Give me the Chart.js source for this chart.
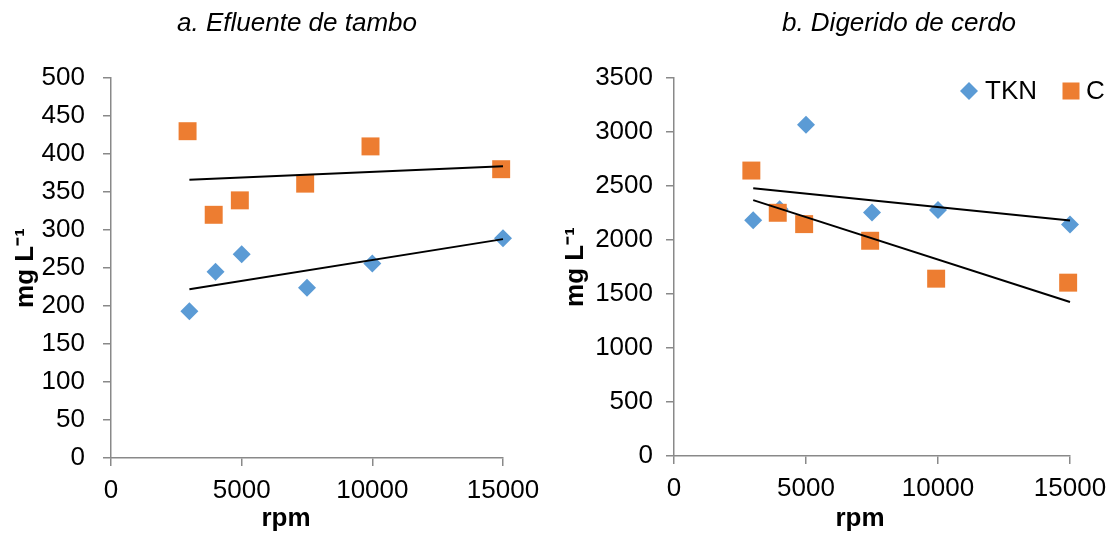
<!DOCTYPE html>
<html><head><meta charset="utf-8">
<script src="https://cdn.jsdelivr.net/npm/chart.js@4.4.1/dist/chart.umd.min.js"></script>
<style>
html,body{margin:0;padding:0;background:#fff;}
#wrap{position:relative;width:1120px;height:538px;overflow:hidden;background:#fff;}
canvas{position:absolute;top:0;}
#c1{left:0;} #c2{left:560px;}
</style></head><body>
<div id="wrap"><canvas id="c1" width="560" height="538"></canvas><canvas id="c2" width="560" height="538"></canvas></div>
<script>
// ---- data ----
const rpmTKN = [3000, 4000, 5000, 7500, 10000, 15000];
const rpmC = [2930, 3930, 4930, 7430, 9930, 14930];
const tamboTKN = [193, 245, 268, 224, 256, 289];
const tamboC = [430, 320, 339, 361, 410, 380];
const cerdoTKN = [2183, 2285, 3068, 2255, 2277, 2144];
const cerdoC = [2643, 2252, 2147, 1993, 1642, 1605];
const trendRpm = [3000, 15000];
const tamboTrendTKN = [222, 288];
const tamboTrendC = [366, 384];
const cerdoTrendTKN = [2480, 2181];
const cerdoTrendC = [2369, 1426];
const xTickStep = 5000, xMax = 15000;
const tamboMax = 500, tamboStep = 50;
const cerdoMax = 3500, cerdoStep = 500;
const titles = ['a. Efluente de tambo', 'b. Digerido de cerdo'];
const seriesNames = ['TKN', 'C'];
const xTitle = 'rpm';
const yTitle = 'mg L\u207B\u00B9';

// ---- styles ----
const FONT = "'Liberation Sans', Arial, sans-serif";
const BLUE = '#5B9BD5', ORANGE = '#ED7D31', AXIS = '#898989';

const pts = (xs, ys) => xs.map((x, i) => ({x, y: ys[i]}));
const plain = v => String(v);

function textPlugin(title, titleX, rpmX, legend) {
  return {
    id: 'texts',
    afterDraw(chart) {
      const ctx = chart.ctx;
      ctx.save();
      ctx.fillStyle = '#000';
      ctx.textAlign = 'center';
      ctx.textBaseline = 'alphabetic';
      ctx.font = 'italic 26px ' + FONT;
      ctx.fillText(title, titleX, 31);
      ctx.font = 'bold 26px ' + FONT;
      ctx.fillText(xTitle, rpmX, 526);
      if (legend) {
        const ly = 91;
        ctx.fillStyle = BLUE;
        ctx.beginPath();
        ctx.moveTo(409 - 9, ly); ctx.lineTo(409, ly - 9); ctx.lineTo(409 + 9, ly); ctx.lineTo(409, ly + 9);
        ctx.closePath(); ctx.fill();
        ctx.fillStyle = ORANGE;
        ctx.fillRect(511 - 8.5, ly - 8.5, 17, 17);
        ctx.fillStyle = '#000';
        ctx.font = '26px ' + FONT;
        ctx.textAlign = 'left';
        ctx.textBaseline = 'middle';
        ctx.fillText(seriesNames[0], 425, ly + 1);
        ctx.fillText(seriesNames[1], 526, ly + 1);
      }
      ctx.restore();
    }
  };
}

function makeChart(id, cfg) {
  const datasets = [
    {type: 'line', data: pts(trendRpm, cfg.trendTKN), borderColor: '#000', borderWidth: 2, pointRadius: 0, showLine: true, fill: false, clip: false},
    {type: 'line', data: pts(trendRpm, cfg.trendC), borderColor: '#000', borderWidth: 2, pointRadius: 0, showLine: true, fill: false, clip: false},
    {label: seriesNames[1], data: pts(rpmC, cfg.C), pointStyle: 'rect', pointRadius: 12.7, pointHoverRadius: 12.7, backgroundColor: ORANGE, borderColor: ORANGE, pointBorderWidth: 0, clip: false},
    {label: seriesNames[0], data: pts(rpmTKN, cfg.TKN), pointStyle: 'rectRot', pointRadius: 9, pointHoverRadius: 9, backgroundColor: BLUE, borderColor: BLUE, pointBorderWidth: 0, clip: false}
  ];
  return new Chart(document.getElementById(id), {
    type: 'scatter',
    data: {datasets},
    options: {
      responsive: false,
      animation: false,
      events: [],
      layout: {padding: {top: cfg.top, right: cfg.right, left: 0, bottom: 0}},
      plugins: {legend: {display: false}, tooltip: {enabled: false}, title: {display: false}},
      scales: {
        x: {
          type: 'linear', min: 0, max: xMax,
          ticks: {stepSize: xTickStep, color: '#000', font: {family: FONT, size: 26}, padding: 9, maxRotation: 0, callback: plain},
          grid: {drawOnChartArea: false, drawTicks: true, tickLength: 8, color: AXIS, lineWidth: 1.5},
          border: {color: AXIS, width: 1.5},
          afterFit(s) { s.height = 538 - cfg.bottom; s.paddingLeft = 0; s.paddingRight = 0; }
        },
        y: {
          type: 'linear', min: 0, max: cfg.max,
          ticks: {stepSize: cfg.step, color: '#000', font: {family: FONT, size: 26}, padding: cfg.tickPad, callback: plain},
          grid: {drawOnChartArea: false, drawTicks: true, tickLength: 8, color: AXIS, lineWidth: 1.5},
          border: {color: AXIS, width: 1.5},
          title: {display: true, text: yTitle, color: '#000', font: {family: FONT, size: 26, weight: 'bold'}, padding: {top: cfg.yTitlePad, bottom: 0}},
          afterFit(s) { s.width = cfg.left; s.paddingTop = 0; s.paddingBottom = 0; }
        }
      }
    },
    plugins: [textPlugin(cfg.title, cfg.titleX, cfg.rpmX, cfg.legend)]
  });
}

makeChart('c1', {TKN: tamboTKN, C: tamboC, trendTKN: tamboTrendTKN, trendC: tamboTrendC,
  max: tamboMax, step: tamboStep, left: 111, right: 57, top: 78, bottom: 458, tickPad: 18, yTitlePad: 10,
  title: titles[0], titleX: 297, rpmX: 286, legend: false});
makeChart('c2', {TKN: cerdoTKN, C: cerdoC, trendTKN: cerdoTrendTKN, trendC: cerdoTrendC,
  max: cerdoMax, step: cerdoStep, left: 114, right: 50, top: 78, bottom: 456, tickPad: 13, yTitlePad: 0,
  title: titles[1], titleX: 339, rpmX: 300, legend: true});
</script>
</body></html>
